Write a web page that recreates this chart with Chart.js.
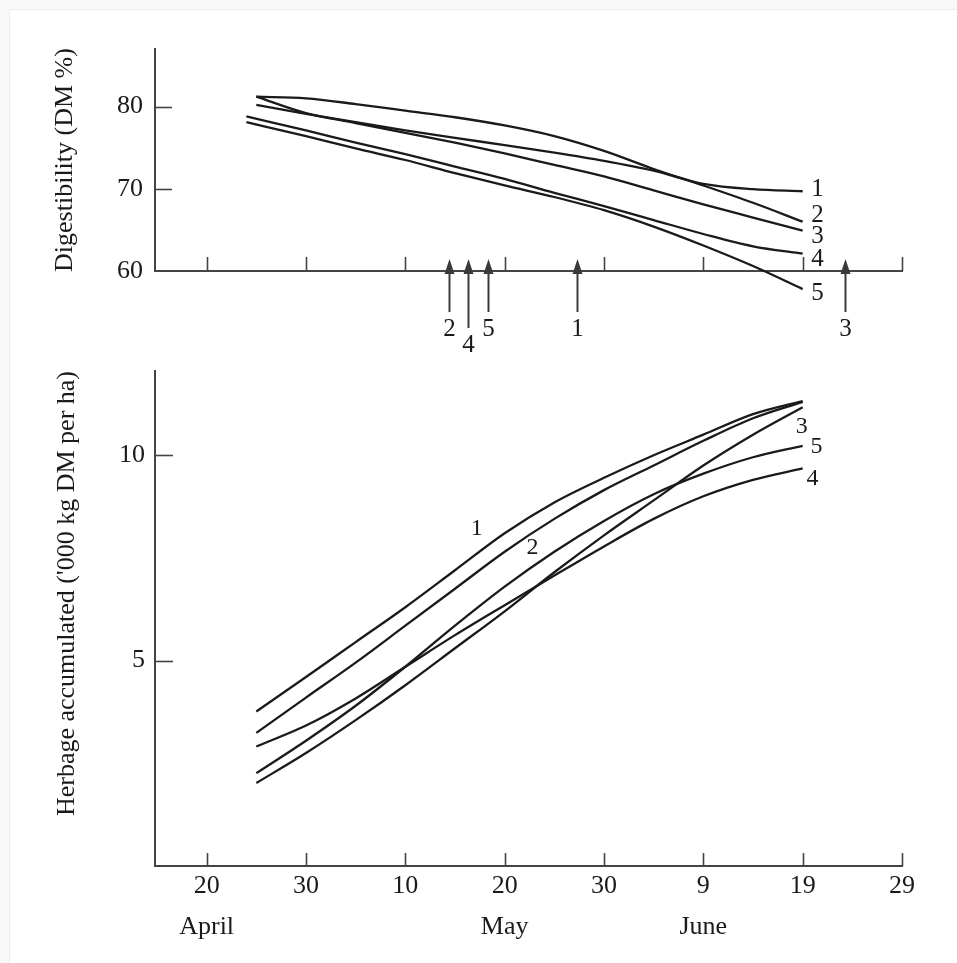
<!DOCTYPE html>
<html>
<head>
<meta charset="utf-8">
<script src="https://cdn.jsdelivr.net/npm/chart.js@4"></script>
<style>
  body { margin: 0; background: #fff; }
  #wrap { position: relative; width: 957px; height: 963px; background: #f9f9f9; overflow: hidden; }
  #sheet { position: absolute; left: 9px; top: 9px; right: 0; bottom: 0; background: #fff; border-left: 1px solid #eeeeee; border-top: 1px solid #eeeeee; }
  #wrap canvas { position: absolute; left: 0; top: 0; }
</style>
</head>
<body>
<div id="wrap">
  <div id="sheet"></div>
  <canvas id="herbChart" width="957" height="963"></canvas>
  <canvas id="digChart" width="957" height="963"></canvas>
</div>
<script>
// x values are days after 20 April
const tickDays = [0, 10, 20, 30, 40, 50, 60, 70];
const dateLabels = ['20', '30', '10', '20', '30', '9', '19', '29'];
const monthLabels = ['April', '', '', 'May', '', 'June', '', ''];

const seriesNames = ['1', '2', '3', '4', '5'];

// digestibility (DM %)
const topDays = [5, 10, 15, 20, 25, 30, 35, 40, 45, 50, 55, 60];
const topDaysEarly = [4, 10, 15, 20, 25, 30, 35, 40, 45, 50, 55, 60];
const digest1 = [80.2, 79.1, 78.1, 77.1, 76.2, 75.3, 74.4, 73.4, 72.2, 70.6, 69.95, 69.7];
const digest2 = [81.2, 81.0, 80.3, 79.5, 78.7, 77.7, 76.4, 74.6, 72.4, 70.4, 68.3, 66.0];
const digest3 = [81.2, 79.2, 78.0, 76.8, 75.6, 74.3, 72.9, 71.5, 69.8, 68.1, 66.5, 64.9];
const digest4 = [78.8, 77.1, 75.6, 74.2, 72.7, 71.2, 69.5, 67.9, 66.2, 64.5, 63.0, 62.1];
const digest5 = [78.1, 76.4, 74.9, 73.5, 71.9, 70.4, 69.0, 67.4, 65.4, 63.1, 60.6, 57.8];
const digestTicks = [60, 70, 80];

// arrows on the digestibility axis
const arrowDays = [24.4, 26.3, 28.3, 37.3, 64.3];
const arrowNames = ['2', '4', '5', '1', '3'];

// herbage accumulated ('000 kg DM per ha)
const herbDays = [5, 10, 15, 20, 25, 30, 35, 40, 45, 50, 55, 60];
const herb1 = [3.76, 4.6, 5.45, 6.3, 7.2, 8.1, 8.85, 9.45, 10.0, 10.5, 11.0, 11.32];
const herb2 = [3.24, 4.1, 4.95, 5.85, 6.75, 7.65, 8.45, 9.15, 9.75, 10.35, 10.9, 11.3];
const herb3 = [2.02, 2.75, 3.55, 4.4, 5.3, 6.2, 7.15, 8.05, 8.9, 9.75, 10.5, 11.17];
const herb4 = [2.91, 3.42, 4.08, 4.85, 5.62, 6.35, 7.07, 7.78, 8.45, 9.0, 9.4, 9.68];
const herb5 = [2.26, 3.05, 3.9, 4.85, 5.85, 6.8, 7.65, 8.4, 9.05, 9.55, 9.95, 10.23];
const herbTicks = [5, 10];

const INK = '#1a1a1a';
const AXIS = '#444';
const SERIF = "'Liberation Serif', 'Times New Roman', serif";

function pts(xs, ys) {
    return xs.map((d, i) => ({ x: d, y: ys[i] }));
}

function lineSet(name, xs, ys) {
    return {
        label: name,
        data: pts(xs, ys),
        borderColor: INK,
        borderWidth: 2.3,
        pointRadius: 0,
        tension: 0.4,
        cubicInterpolationMode: 'monotone',
        clip: false,
        fill: false
    };
}

// tick marks point into the plot, plus labels and arrows
const inkPlugin = {
    id: 'ink',
    afterDatasetsDraw(chart, args, opts) {
        const ctx = chart.ctx;
        const xs = chart.scales.x, ys = chart.scales.y;
        const a = chart.chartArea;
        ctx.save();
        ctx.strokeStyle = AXIS;
        ctx.lineWidth = 1.6;
        tickDays.forEach(d => {
            const px = Math.round(xs.getPixelForValue(d)) + 0.5;
            ctx.beginPath();
            ctx.moveTo(px, a.bottom);
            ctx.lineTo(px, a.bottom - opts.xTickLen);
            ctx.stroke();
        });
        opts.yTicks.forEach(v => {
            const py = Math.round(ys.getPixelForValue(v)) + 0.5;
            ctx.beginPath();
            ctx.moveTo(a.left, py);
            ctx.lineTo(a.left + opts.yTickLen, py);
            ctx.stroke();
        });

        ctx.fillStyle = INK;
        ctx.font = opts.labelFont;
        ctx.textAlign = 'center';
        ctx.textBaseline = 'middle';
        opts.labels.forEach(l => {
            ctx.fillText(l.text, xs.getPixelForValue(l.x), ys.getPixelForValue(l.y));
        });

        if (opts.arrows) {
            const base = a.bottom;
            arrowDays.forEach((d, i) => {
                const px = Math.round(xs.getPixelForValue(d)) + 0.5;
                const low = arrowNames[i] === '4';
                ctx.strokeStyle = '#3a3a3a';
                ctx.fillStyle = '#3a3a3a';
                ctx.lineWidth = 2;
                ctx.beginPath();
                ctx.moveTo(px, base + (low ? 57 : 41));
                ctx.lineTo(px, base - 4);
                ctx.stroke();
                ctx.beginPath();
                ctx.moveTo(px, base - 12);
                ctx.lineTo(px - 5, base + 3);
                ctx.lineTo(px + 5, base + 3);
                ctx.closePath();
                ctx.fill();
                ctx.fillStyle = INK;
                ctx.font = opts.labelFont;
                ctx.fillText(arrowNames[i], px, base + (low ? 74 : 58));
            });
        }
        ctx.restore();
    }
};

const xTickFont = { family: SERIF, size: 26, lineHeight: 1.58 };

new Chart(document.getElementById('digChart'), {
    type: 'line',
    data: {
        datasets: [
            lineSet(seriesNames[0], topDays, digest1),
            lineSet(seriesNames[1], topDays, digest2),
            lineSet(seriesNames[2], topDays, digest3),
            lineSet(seriesNames[3], topDaysEarly, digest4),
            lineSet(seriesNames[4], topDaysEarly, digest5)
        ]
    },
    options: {
        responsive: false,
        animation: false,
        events: [],
        layout: { padding: { left: 0, top: 49, right: 55, bottom: 692 } },
        plugins: {
            legend: { display: false },
            tooltip: { enabled: false },
            ink: {
                xTickLen: 14,
                yTickLen: 17,
                yTicks: [70, 80],
                labelFont: "25px " + SERIF,
                arrows: true,
                labels: [
                    { text: '1', x: 61.5, y: 69.9 },
                    { text: '2', x: 61.5, y: 66.8 },
                    { text: '3', x: 61.5, y: 64.15 },
                    { text: '4', x: 61.5, y: 61.35 },
                    { text: '5', x: 61.5, y: 57.3 }
                ]
            }
        },
        scales: {
            x: {
                type: 'linear',
                min: -5.2,
                max: 70,
                afterFit: s => { s.height = 0; },
                grid: { display: false, drawTicks: false },
                border: { display: true, color: AXIS, width: 2 },
                ticks: { display: false }
            },
            y: {
                min: 60,
                max: 87,
                afterBuildTicks: s => { s.ticks = digestTicks.map(v => ({ value: v })); },
                afterFit: s => { s.width = 155; },
                grid: { display: false, drawTicks: false },
                border: { display: true, color: AXIS, width: 2 },
                ticks: { color: INK, padding: 12, font: { family: SERIF, size: 26 } },
                title: {
                    display: true,
                    text: 'Digestibility (DM %)',
                    color: INK,
                    font: { family: SERIF, size: 26 },
                    padding: { top: 50, bottom: 0 }
                }
            }
        }
    },
    plugins: [inkPlugin]
});

new Chart(document.getElementById('herbChart'), {
    type: 'line',
    data: {
        datasets: [
            lineSet(seriesNames[0], herbDays, herb1),
            lineSet(seriesNames[1], herbDays, herb2),
            lineSet(seriesNames[2], herbDays, herb3),
            lineSet(seriesNames[3], herbDays, herb4),
            lineSet(seriesNames[4], herbDays, herb5)
        ]
    },
    options: {
        responsive: false,
        animation: false,
        events: [],
        layout: { padding: { left: 0, top: 371, right: 55, bottom: 0 } },
        plugins: {
            legend: { display: false },
            tooltip: { enabled: false },
            ink: {
                xTickLen: 13,
                yTickLen: 18,
                yTicks: herbTicks,
                labelFont: "24px " + SERIF,
                arrows: false,
                labels: [
                    { text: '1', x: 27.2, y: 8.2 },
                    { text: '2', x: 32.8, y: 7.76 },
                    { text: '3', x: 59.9, y: 10.7 },
                    { text: '5', x: 61.4, y: 10.2 },
                    { text: '4', x: 61.0, y: 9.44 }
                ]
            }
        },
        scales: {
            x: {
                type: 'linear',
                min: -5.2,
                max: 70,
                afterBuildTicks: s => { s.ticks = tickDays.map(v => ({ value: v })); },
                afterFit: s => { s.height = 97; },
                grid: { display: false, drawTicks: false },
                border: { display: true, color: AXIS, width: 2 },
                ticks: {
                    color: INK,
                    padding: 0,
                    maxRotation: 0,
                    autoSkip: false,
                    font: xTickFont,
                    callback: v => {
                        const i = tickDays.indexOf(v);
                        return monthLabels[i] ? [dateLabels[i], monthLabels[i]] : dateLabels[i];
                    }
                }
            },
            y: {
                min: 0,
                max: 12.05,
                afterBuildTicks: s => { s.ticks = herbTicks.map(v => ({ value: v })); },
                afterFit: s => { s.width = 155; },
                grid: { display: false, drawTicks: false },
                border: { display: true, color: AXIS, width: 2 },
                ticks: { color: INK, padding: 10, font: { family: SERIF, size: 26 } },
                title: {
                    display: true,
                    text: "Herbage accumulated ('000 kg DM per ha)",
                    align: 'end',
                    color: INK,
                    font: { family: SERIF, size: 26 },
                    padding: { top: 52, bottom: 0 }
                }
            }
        }
    },
    plugins: [inkPlugin]
});
</script>
</body>
</html>
